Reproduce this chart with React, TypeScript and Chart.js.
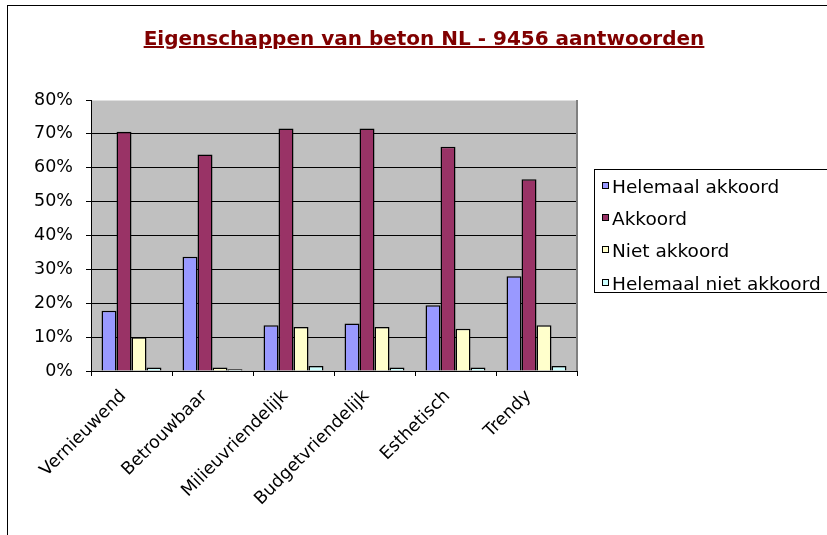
import React, { useEffect, useRef } from "react";
import { Chart, registerables } from "chart.js";

Chart.register(...registerables);

const TITLE = "Eigenschappen van beton NL - 9456 aantwoorden";
const categories = ["Vernieuwend", "Betrouwbaar", "Milieuvriendelijk", "Budgetvriendelijk", "Esthetisch", "Trendy"];
const seriesNames = ["Helemaal akkoord", "Akkoord", "Niet akkoord", "Helemaal niet akkoord"];
const seriesColors = ["#9999FF", "#993366", "#FFFFCC", "#CCFFFF"];
const helemaalAkkoord = [17.8, 33.7, 13.5, 14.0, 19.4, 28.0];
const akkoord = [70.6, 63.9, 71.6, 71.6, 66.2, 56.6];
const nietAkkoord = [10.0, 1.0, 13.0, 13.0, 12.5, 13.5];
const helemaalNietAkkoord = [1.0, 0.5, 1.5, 1.0, 1.0, 1.5];
const seriesValues = [helemaalAkkoord, akkoord, nietAkkoord, helemaalNietAkkoord];
const yTicks = [0, 10, 20, 30, 40, 50, 60, 70, 80];

const FONT = "'DejaVu Sans', sans-serif";

export default function App() {
  const ref = useRef<HTMLCanvasElement | null>(null);

  useEffect(() => {
    const canvas = ref.current;
    if (!canvas) return;
    const plotBg = {
      id: "plotBg",
      beforeDraw(chart: any) {
        const { ctx, chartArea: a } = chart;
        ctx.save();
        ctx.fillStyle = "#C0C0C0";
        ctx.fillRect(a.left, a.top, a.right - a.left, a.bottom - a.top);
        ctx.restore();
      },
      afterDraw(chart: any) {
        const { ctx, chartArea: a } = chart;
        ctx.save();
        ctx.strokeStyle = "#808080";
        ctx.lineWidth = 2;
        ctx.beginPath();
        ctx.moveTo(a.right, a.top);
        ctx.lineTo(a.right, a.bottom);
        ctx.stroke();
        ctx.restore();
      },
    };
    const chart = new Chart(canvas, {
      type: "bar",
      data: {
        labels: categories,
        datasets: seriesNames.map((name, i) => ({
          label: name,
          data: seriesValues[i],
          backgroundColor: seriesColors[i],
          borderColor: "#000",
          borderWidth: 1.5,
          categoryPercentage: 0.74,
          barPercentage: 1,
        })),
      },
      options: {
        responsive: false,
        animation: false,
        devicePixelRatio: 1,
        layout: { padding: { left: 0, top: 100, right: 250, bottom: 0 } },
        plugins: { legend: { display: false }, title: { display: false }, tooltip: { enabled: false } },
        scales: {
          x: {
            grid: { offset: true, drawOnChartArea: false, tickLength: 5, color: "#000", tickColor: "#000" },
            border: { display: true, color: "#000", width: 1 },
            ticks: {
              minRotation: 45,
              maxRotation: 45,
              autoSkip: false,
              color: "#000",
              padding: 10,
              labelOffset: -8,
              font: { family: FONT, size: 17.5 },
            },
            afterFit(scale: any) {
              scale.height = 164;
            },
          },
          y: {
            min: 0,
            max: 80,
            afterBuildTicks(scale: any) {
              scale.ticks = yTicks.map((v) => ({ value: v }));
            },
            grid: {
              color: (ctx: any) => (ctx.tick && ctx.tick.value === 80 ? "#E0E0E0" : "#000"),
              tickColor: "#000",
              tickLength: 5,
              lineWidth: 1,
            },
            border: { display: true, color: "#000", width: 1 },
            ticks: {
              color: "#000",
              padding: 13,
              font: { family: FONT, size: 17.5 },
              callback: (v: any) => v + "%",
            },
            afterFit(scale: any) {
              scale.width = 91;
            },
          },
        },
      },
      plugins: [plotBg],
    });
    return () => chart.destroy();
  }, []);

  return (
    <div style={{ position: "fixed", left: 0, top: 0, width: 827, height: 535, overflow: "hidden", background: "#fff" }}>
      <div style={{ position: "absolute", left: 7, top: 5, width: 900, height: 600, border: "1px solid #000", boxSizing: "border-box" }} />
      <canvas ref={ref} width={827} height={535} style={{ position: "absolute", left: 0, top: 0, width: 827, height: 535 }} />
      <div
        style={{
          position: "absolute",
          left: 0,
          width: 848,
          top: 26,
          textAlign: "center",
          fontFamily: FONT,
          fontWeight: "bold",
          fontSize: 20,
          lineHeight: "24px",
          color: "#800000",
          textDecoration: "underline",
          whiteSpace: "nowrap",
        }}
      >
        {TITLE}
      </div>
      <div
        style={{
          position: "absolute",
          left: 594,
          top: 169,
          width: 260,
          height: 124,
          border: "1px solid #000",
          boxSizing: "border-box",
          paddingTop: 0,
          background: "#fff",
        }}
      >
        {seriesNames.map((name, i) => (
          <div key={name} style={{ height: 32.3, display: "flex", alignItems: "center" }}>
            <div
              style={{
                width: 5,
                height: 5,
                border: "1px solid #000",
                background: seriesColors[i],
                marginLeft: 7,
                marginRight: 3,
                marginTop: -2,
              }}
            />
            <span style={{ fontFamily: FONT, fontSize: 18.5, color: "#000", whiteSpace: "nowrap" }}>{name}</span>
          </div>
        ))}
      </div>
    </div>
  );
}
